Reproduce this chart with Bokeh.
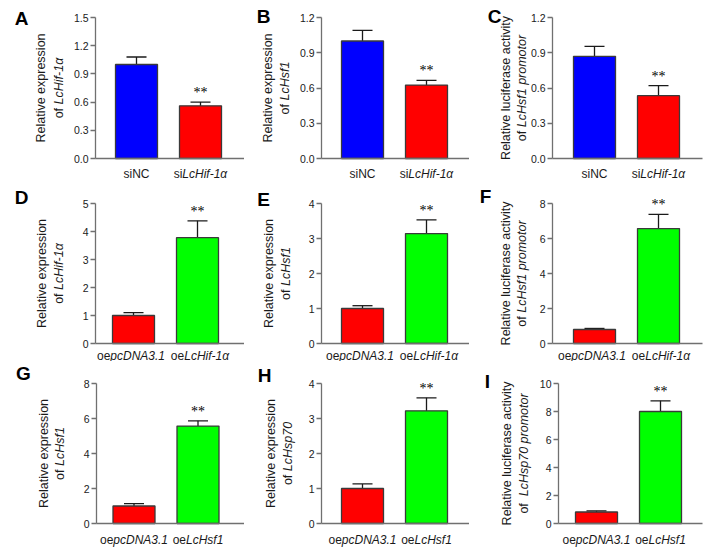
import math
from bokeh.plotting import figure
from bokeh.models import (Range1d, FixedTicker, PrintfTickFormatter, Label, LabelSet,
                          Whisker, ColumnDataSource, TeeHead)
from bokeh.layouts import row, column
from bokeh.embed import file_html
from bokeh.resources import INLINE

# ---------------- data ----------------
letters = ["A", "B", "C", "D", "E", "F", "G", "H", "I"]

# category labels: (upright part, italic part)
cats_si = [("siNC", ""), ("si", "LcHif-1α")]
cats_oe_hif = [("oe", "pcDNA3.1"), ("oe", "LcHif-1α")]
cats_oe_hsf = [("oe", "pcDNA3.1"), ("oe", "LcHsf1")]
panel_cats = [cats_si, cats_si, cats_si,
              cats_oe_hif, cats_oe_hif, cats_oe_hif,
              cats_oe_hsf, cats_oe_hsf, cats_oe_hsf]

# y-axis titles: line 1, and line 2 as (upright, italic)
ylab1 = ["Relative expression", "Relative expression", "Relative luciferase activity",
         "Relative expression", "Relative expression", "Relative luciferase activity",
         "Relative expression", "Relative expression", "Relative luciferase activity"]
ylab2 = [("of ", "LcHif-1α"), ("of ", "LcHsf1"), ("of ", "LcHsf1 promotor"),
         ("of ", "LcHif-1α"), ("of ", "LcHsf1"), ("of ", "LcHsf1 promotor"),
         ("of ", "LcHsf1"), ("of ", "LcHsp70"), ("of  ", "LcHsp70 promotor")]

means_A = [1.00, 0.56];  hi_A = [1.08, 0.60];  lo_A = [0.94, 0.525]
means_B = [1.00, 0.625]; hi_B = [1.09, 0.665]; lo_B = [0.955, 0.58]
means_C = [0.87, 0.535]; hi_C = [0.955, 0.62]; lo_C = [0.815, 0.48]
means_D = [1.00, 3.78];  hi_D = [1.10, 4.38];  lo_D = [0.90, 3.45]
means_E = [1.00, 3.14];  hi_E = [1.08, 3.53];  lo_E = [0.94, 2.93]
means_F = [0.80, 6.57];  hi_F = [0.86, 7.38];  lo_F = [0.76, 5.87]
means_G = [1.00, 5.57];  hi_G = [1.14, 5.87];  lo_G = [0.92, 5.10]
means_H = [1.00, 3.22];  hi_H = [1.13, 3.59];  lo_H = [0.92, 3.05]
means_I = [0.82, 8.00];  hi_I = [0.90, 8.76];  lo_I = [0.77, 7.12]

all_means = [means_A, means_B, means_C, means_D, means_E, means_F, means_G, means_H, means_I]
all_hi = [hi_A, hi_B, hi_C, hi_D, hi_E, hi_F, hi_G, hi_H, hi_I]
all_lo = [lo_A, lo_B, lo_C, lo_D, lo_E, lo_F, lo_G, lo_H, lo_I]

ticks_A = [0, 0.3, 0.6, 0.9, 1.2, 1.5]
ticks_B = [0, 0.3, 0.6, 0.9, 1.2]
ticks_C = [0, 0.3, 0.6, 0.9, 1.2]
ticks_D = [0, 1, 2, 3, 4, 5]
ticks_E = [0, 1, 2, 3, 4]
ticks_F = [0, 2, 4, 6, 8]
ticks_G = [0, 2, 4, 6, 8]
ticks_H = [0, 1, 2, 3, 4]
ticks_I = [0, 2, 4, 6, 8, 10]
all_ticks = [ticks_A, ticks_B, ticks_C, ticks_D, ticks_E, ticks_F, ticks_G, ticks_H, ticks_I]
tick_fmt = ["%.1f"] * 3 + ["%d"] * 6

row1_colors = ["#0000FF", "#FF0000"]
row23_colors = ["#FF0000", "#00FF00"]

# ---------------- layout / style (canvas pixels) ----------------
FONT = "Liberation Sans"
FIG_W = [244, 225, 237]
FIG_H = [181, 180, 186]
AXIS_X = [95, 321, 552, 95, 321, 552, 96, 321, 558]       # y-axis position
BAR1_X = [136, 362, 594, 133, 362, 594, 133.5, 362, 596]  # centre of first bar
AXIS_END = [244, 469, 702]                                # right end of x-axis
FRAME_T = [17, 203, 383]                                  # top tick
FRAME_B = [158, 343, 523]                                 # baseline
UNIT = 64.0
BAR_W = 42 / 64.0
DX1 = [-55, -54, -47, -54, -53, -47, -53, -51, -52]
DX2 = [-37, -37, -31, -37, -36, -31, -37, -34, -35]
XLAB_Y = [173, 355, 539]
XLAB_SIZE = [12.0, 12.0, 12.0]
XLAB_SHIFT = [(0, 0), (-2.5, 2.5), (0, 0)]
LETTER_POS = [(21, 17.5), (263, 15.5), (494, 16), (21, 196.5), (263, 199), (485, 196),
              (23, 373), (264, 375), (487, 381)]
AXIS_COLOR = "#707070"
TEXT_COLOR = "#1a1a1a"

CW = {' ': 278, '.': 278, '-': 333, 'a': 556, 'b': 556, 'c': 500, 'd': 556, 'e': 556,
      'f': 278, 'g': 556, 'h': 556, 'i': 222, 'j': 222, 'k': 500, 'l': 222, 'm': 833,
      'n': 556, 'o': 556, 'p': 556, 'q': 556, 'r': 333, 's': 500, 't': 278, 'u': 556,
      'v': 500, 'w': 722, 'x': 500, 'y': 500, 'z': 500, 'A': 667, 'B': 667, 'C': 722,
      'D': 722, 'E': 667, 'F': 611, 'G': 778, 'H': 722, 'I': 278, 'L': 556, 'N': 722,
      'R': 722, 'S': 667, 'α': 578}


def tw(s, size):
    return sum(CW.get(ch, 556) for ch in s) / 1000.0 * size


def make_panel(k):
    col, rw = k % 3, k // 3
    fw, fh = FIG_W[col], FIG_H[rw]
    ox, oy = sum(FIG_W[:col]), sum(FIG_H[:rw])
    ymax = all_ticks[k][-1]
    ppu = (FRAME_B[rw] - FRAME_T[rw]) / ymax          # px per y unit

    def dx(sx):
        return 1 + (sx - BAR1_X[k]) / UNIT

    def dy(sy):
        return (FRAME_B[rw] - sy) / ppu

    p = figure(width=fw, height=fh, output_backend="svg", toolbar_location=None,
               x_range=Range1d(dx(ox), dx(ox + fw)), y_range=Range1d(dy(oy + fh), dy(oy)),
               min_border=0, min_border_left=0, min_border_right=0,
               min_border_top=0, min_border_bottom=0)
    p.outline_line_color = None
    p.xgrid.visible = False
    p.ygrid.visible = False
    p.background_fill_color = "white"
    p.border_fill_color = "white"

    # axes (pinned inside the frame)
    p.yaxis.fixed_location = dx(AXIS_X[k])
    p.yaxis.bounds = (0, ymax)
    p.yaxis.ticker = FixedTicker(ticks=all_ticks[k])
    p.yaxis.formatter = PrintfTickFormatter(format=tick_fmt[k])
    p.yaxis.major_tick_out = 5
    p.yaxis.major_tick_in = 0
    p.yaxis.minor_tick_line_color = None
    p.yaxis.axis_line_color = AXIS_COLOR
    p.yaxis.major_tick_line_color = AXIS_COLOR
    p.yaxis.axis_line_width = 1.3
    p.yaxis.major_tick_line_width = 1.3
    p.yaxis.major_label_text_font = FONT
    p.yaxis.major_label_text_font_size = "10.5px"
    p.yaxis.major_label_text_color = TEXT_COLOR
    p.yaxis.major_label_standoff = 2
    p.xaxis.fixed_location = 0
    p.xaxis.bounds = (dx(AXIS_X[k]), dx(AXIS_END[col]))
    p.xaxis.ticker = FixedTicker(ticks=[])
    p.xaxis.major_tick_line_color = None
    p.xaxis.minor_tick_line_color = None
    p.xaxis.axis_line_color = AXIS_COLOR
    p.xaxis.axis_line_width = 1.3

    xs = [i + 1 for i in range(len(all_means[k]))]
    colors = row1_colors if rw == 0 else row23_colors
    src = ColumnDataSource(dict(x=xs, top=all_means[k], hi=all_hi[k], lo=all_lo[k],
                                color=colors, star=["", "**"]))
    p.vbar(x="x", top="top", width=BAR_W, bottom=0, source=src, fill_color="color",
           line_color="#3a3a3a", line_width=1.3)
    w = Whisker(source=src, base="x", upper="hi", lower="lo", line_color=TEXT_COLOR,
                line_width=1.3,
                upper_head=TeeHead(size=20, line_color=TEXT_COLOR, line_width=1.3),
                lower_head=TeeHead(size=20, line_color=TEXT_COLOR, line_width=1.3))
    p.add_layout(w)
    stars = LabelSet(x="x", y="hi", text="star", source=src, text_align="center",
                     text_baseline="alphabetic", y_offset=5, text_font=FONT,
                     text_font_size="14px", text_color="black")
    p.add_layout(stars)

    # panel letter
    lx, ly = LETTER_POS[k]
    p.add_layout(Label(x=dx(lx), y=dy(ly), text=letters[k],
                       text_font=FONT, text_font_style="bold", text_font_size="19px",
                       text_align="center", text_baseline="middle", text_color="black"))

    # y-axis title (rotated, two lines)
    ysize = 12.5
    ycen = (FRAME_T[rw] + FRAME_B[rw]) / 2.0
    t1 = ylab1[k]
    W1 = tw(t1, ysize)
    p.add_layout(Label(x=dx(AXIS_X[k] + DX1[k]), y=dy(ycen + W1 / 2.0), text=t1,
                       angle=math.pi / 2, text_font=FONT, text_font_size="%.1fpx" % ysize,
                       text_align="left", text_baseline="middle", text_color=TEXT_COLOR))
    a, b = ylab2[k]
    wa, wb = tw(a, ysize), tw(b, ysize)
    start = ycen + (wa + wb) / 2.0
    p.add_layout(Label(x=dx(AXIS_X[k] + DX2[k]), y=dy(start), text=a, angle=math.pi / 2,
                       text_font=FONT, text_font_size="%.1fpx" % ysize, text_align="left",
                       text_baseline="middle", text_color=TEXT_COLOR))
    p.add_layout(Label(x=dx(AXIS_X[k] + DX2[k]), y=dy(start - wa), text=b, angle=math.pi / 2,
                       text_font=FONT, text_font_style="italic",
                       text_font_size="%.1fpx" % ysize, text_align="left",
                       text_baseline="middle", text_color=TEXT_COLOR))

    # category labels (upright prefix + italic name)
    xsize = XLAB_SIZE[rw]
    for i, (a, b) in enumerate(panel_cats[k]):
        wa, wb = tw(a, xsize), tw(b, xsize)
        left = xs[i] + (XLAB_SHIFT[rw][i] - (wa + wb) / 2.0) / UNIT
        yl = dy(XLAB_Y[rw])
        p.add_layout(Label(x=left, y=yl, text=a, text_font=FONT,
                           text_font_size="%.1fpx" % xsize, text_align="left",
                           text_baseline="middle", text_color=TEXT_COLOR))
        if b:
            p.add_layout(Label(x=left + wa / UNIT, y=yl, text=b, text_font=FONT,
                               text_font_style="italic", text_font_size="%.1fpx" % xsize,
                               text_align="left", text_baseline="middle",
                               text_color=TEXT_COLOR))
    return p


figs = [make_panel(k) for k in range(9)]
layout = column(row(*figs[0:3]), row(*figs[3:6]), row(*figs[6:9]))

open("out.html", "w").write(file_html(layout, INLINE))
